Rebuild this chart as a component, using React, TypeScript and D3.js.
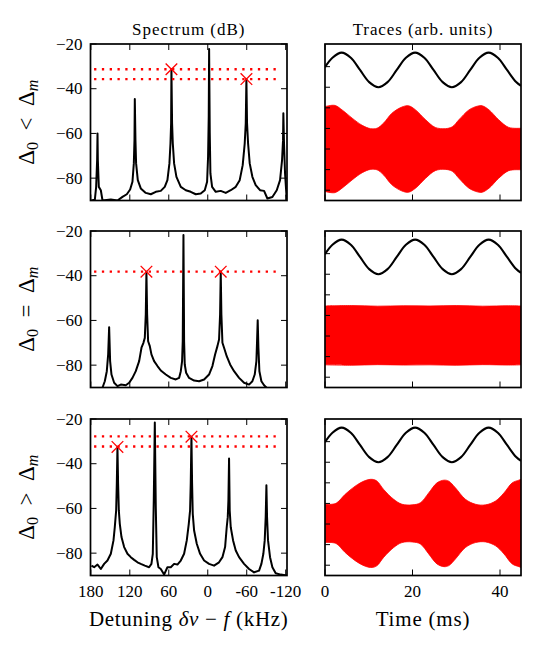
import React from "react";
import * as d3 from "d3";

const FONT = "'Liberation Serif', 'Times New Roman', serif";

// ---------- axis / tick data ----------
const freqTicks = [180, 120, 60, 0, -60, -120];
const freqTickLabels = ["180", "120", "60", "0", "-60", "-120"];
const dbTicks = [-20, -40, -60, -80];
const dbTickLabels = ["\u221220", "\u221240", "\u221260", "\u221280"];
const timeTicks = [0, 20, 40];
const timeTickLabels = ["0", "20", "40"];
const traceTicks = [0, 1, 2, 3, 4, 5, 6];
const freqDomain = [180.5, -122];
const dbDomain = [-90, -20];
const timeDomain = [0, 44.8];
const traceDomain = [-0.5, 7.1];

// ---------- spectra (detuning kHz, dB) ----------
const spectrumTop: [number, number][] = [
  [179, -90], [173.8, -89.6], [171.8, -83.9], [170.3, -71.9], [169.7, -60], [169.2, -71.9], [167.7, -83.9],
  [164.6, -85.4], [162, -90], [149.2, -89.6], [139, -90], [131.3, -88.4], [124.6, -87.2], [119.5, -85.1],
  [115.9, -81.6], [113.8, -73.4], [112.8, -63], [112.3, -44.6], [111.3, -63], [110.3, -73.4], [107.7, -80.9],
  [103.1, -84.6], [95.4, -86.6], [87.7, -87.2], [80, -86.1], [72.3, -85.7], [66.2, -83.9], [62.1, -80.9],
  [59, -73.4], [57.4, -64.5], [56.4, -55.5], [55.9, -31.3], [54.9, -55.5], [53.8, -64.5], [51.8, -73.4],
  [48.2, -79.4], [41.5, -83.9], [33.8, -85.4], [26.2, -86.1], [18.5, -87.2], [10.8, -86.9], [4.6, -85.4],
  [1, -81.6], [-0.5, -70.4], [-1.5, -52.5], [-2.1, -22.2], [-3.1, -60], [-4.1, -77.9], [-6.7, -83.9],
  [-12.3, -86.1], [-20, -85.7], [-27.7, -86.6], [-35.4, -85.4], [-43.1, -83.9], [-49.2, -80.9], [-53.8, -74.2],
  [-56.9, -64.5], [-58.5, -55.5], [-59.5, -35.7], [-60.5, -55.5], [-62.1, -64.5], [-64.6, -73.4], [-68.7, -79.4],
  [-73.8, -83.1], [-80.5, -85.4], [-86.7, -85.7], [-91.8, -89.1], [-99.5, -88.4], [-106.2, -85.4],
  [-111.3, -80.9], [-114.4, -71.9], [-115.9, -63], [-116.4, -51], [-117.4, -64.5], [-119, -77.9],
  [-121, -86.9], [-122.6, -90],
];

const spectrumMid: [number, number][] = [
  [162.1, -90.1], [158.5, -87.2], [155.4, -82.7], [153.3, -75.2], [151.8, -63], [150.3, -78.2], [148.2, -84.2],
  [144.1, -87.9], [139, -89.4], [133.8, -88.7], [126.2, -89], [121, -87.9], [115.9, -85.7], [110.8, -82.7],
  [105.6, -78.2], [102, -72.2], [99, -70], [96.9, -67.8], [95.4, -57.3], [94.4, -38.2], [93.3, -57.3],
  [91.8, -69.3], [89.2, -71.5], [86.7, -75.2], [82.6, -78.2], [77.4, -80.4], [72.3, -82.4], [64.6, -84.2],
  [56.9, -85.7], [49.2, -86.4], [44.1, -85.7], [41.5, -82.7], [39.5, -78.2], [38.5, -69.3], [37.4, -21.8],
  [36.4, -69.3], [35.4, -79.7], [33.3, -83.4], [28.7, -85.7], [21, -86.9], [13.3, -87.2], [5.6, -86.4],
  [-2, -84.2], [-7.2, -80.4], [-11.3, -75.2], [-14.9, -71.5], [-17.4, -68.5], [-19, -57.3], [-20, -38.2],
  [-21, -57.3], [-22.6, -70], [-25.1, -72.2], [-29.2, -76], [-34.4, -79.7], [-40.5, -82.7], [-48.2, -85.7],
  [-55.9, -87.9], [-63.6, -88.7], [-68.7, -87.2], [-72.3, -84.2], [-74.9, -78.2], [-75.9, -69.3],
  [-76.9, -59.9], [-78, -72.2], [-79.5, -82.7], [-82.6, -87.2], [-86.7, -89], [-91.8, -90.4], [-122.6, -91.6],
];

const spectrumBottom: [number, number][] = [
  [179, -85.6], [174.9, -86.3], [169.7, -85.1], [164.6, -87.1], [159.5, -84.8], [154.4, -83.3], [149.2, -80.3],
  [145.1, -74.3], [143.1, -68.4], [141, -60.9], [140, -48.9], [139, -32.5], [138, -48.9], [136.9, -60.9],
  [135.4, -66.9], [132.8, -72.8], [128.7, -77.3], [123.6, -80.3], [118.5, -81.8], [113.3, -83], [108.2, -84.1],
  [103.1, -84.8], [96.9, -85.6], [90.3, -86.3], [86.7, -84.8], [84.6, -80.3], [83.1, -56.4], [81.5, -21.6],
  [80, -59.4], [78.5, -81.8], [75.9, -86.3], [72.3, -87.1], [67.2, -89.6], [62.1, -86.3], [56.9, -86.3],
  [51.8, -84.8], [46.7, -85.1], [41.5, -83.3], [36.4, -80.3], [32.3, -74.3], [29.2, -66.9], [27.2, -60.9],
  [26.2, -48.9], [25.1, -27.9], [24.1, -48.9], [23.1, -62.4], [21, -69.9], [16.9, -75.8], [11.8, -80.3],
  [5.6, -83.3], [-2, -84.8], [-9.7, -85.6], [-17.4, -84.1], [-22.6, -81.8], [-26.7, -77.3], [-29.2, -68.4],
  [-30.8, -63.9], [-31.8, -56.4], [-32.8, -37.7], [-33.8, -60.9], [-35.4, -68.4], [-39, -74.3], [-43.1, -78.8],
  [-48.2, -81.8], [-55.9, -84.8], [-63.6, -87.1], [-71.3, -88.6], [-79, -87.8], [-82.6, -84.8], [-85.6, -80.3],
  [-87.7, -74.3], [-89.2, -63.9], [-90.3, -49.6], [-91.3, -63.9], [-92.8, -74.3], [-95.9, -81.8],
  [-99.5, -86.3], [-104.6, -89], [-112.3, -89.6], [-122.6, -90],
];

const markersTop: [number, number][] = [[55.9, -31.3], [-59.5, -35.7]];
const markersMid: [number, number][] = [[94.4, -38.2], [-20, -38.2]];
const markersBottom: [number, number][] = [[139, -32.5], [25.1, -27.9]];
const levelsTop = [-31.3, -35.7];
const levelsMid = [-38.2];
const levelsBottom = [-27.8, -32.3];
const levelSpan = [175, -112];

// ---------- traces (time ms, arb. units) ----------
const modulation: [number, number][] = [
  [0, 5.97], [1.7, 6.43], [3.8, 6.68], [5.9, 6.43], [8.0, 5.84], [10.1, 5.25], [12.2, 5.0], [14.3, 5.25],
  [16.4, 5.84], [18.5, 6.43], [20.6, 6.68], [22.7, 6.43], [24.8, 5.84], [26.9, 5.25], [29.0, 5.0], [31.1, 5.25],
  [33.2, 5.84], [35.3, 6.43], [37.4, 6.68], [39.5, 6.43], [41.6, 5.84], [43.7, 5.25], [44.8, 5.07],
];

const envelopeTop: [number, number][] = [
  [0, 2.06], [2.2, 2.12], [3.9, 1.9], [6.2, 1.5], [8.5, 1.15], [10.4, 0.99], [11.9, 1.01], [13.4, 1.26],
  [15.3, 1.74], [17.6, 2.04], [19.1, 2.1], [20.7, 1.9], [23, 1.42], [25.2, 1.05], [27.5, 0.99], [29.1, 1.08],
  [30.6, 1.42], [32.9, 1.9], [34.8, 2.08], [35.9, 2.1], [37.5, 1.9], [39.7, 1.42], [42, 1.05], [44.8, 1.01],
];
const envelopeMid: [number, number][] = [
  [0, 1.43], [6, 1.45], [12, 1.42], [18, 1.44], [24, 1.43], [30, 1.45], [36, 1.42], [42, 1.44], [44.8, 1.43],
];
const envelopeBottom: [number, number][] = [
  [0, 0.93], [1.6, 0.93], [2.7, 1.0], [4.6, 1.41], [6.9, 1.81], [9.2, 2.08], [10.8, 2.14], [11.9, 2.05],
  [13.4, 1.65], [15.7, 1.17], [17.6, 0.93], [19.9, 0.9], [21.8, 1.0], [23.7, 1.48], [25.6, 1.97], [27.2, 2.1],
  [28.3, 2.05], [29.8, 1.73], [32.1, 1.17], [34.4, 0.93], [36.7, 0.9], [39, 1.09], [40.9, 1.48], [42.8, 1.97],
  [44.3, 2.1], [44.8, 2.14],
];
const envelopeCenters = [2.0, 2.03, 2.03];

// ---------- layout ----------
const LX0 = 90.5, LX1 = 287;
const RX0 = 325, RX1 = 521;
const ROW_TOPS = [44, 231, 419];
const PH = 156.5;
const TICK = 6;

type Pt = [number, number];

function SpectrumPanel({ row, data, markers, levels }: { row: number; data: Pt[]; markers: Pt[]; levels: number[] }) {
  const top = ROW_TOPS[row];
  const x = d3.scaleLinear().domain(freqDomain).range([LX0, LX1]);
  const y = d3.scaleLinear().domain(dbDomain).range([top + PH, top]);
  const line = d3.line<Pt>().x((d) => x(d[0])).y((d) => y(d[1]));
  const clipId = `clipS${row}`;
  const showX = row === 2;
  return (
    <g>
      <defs>
        <clipPath id={clipId}>
          <rect x={LX0} y={top} width={LX1 - LX0} height={PH} />
        </clipPath>
      </defs>
      <g clipPath={`url(#${clipId})`}>
        <path d={line(data) || ""} fill="none" stroke="#000" strokeWidth={2} strokeLinejoin="round" />
        {levels.map((lv, i) => (
          <line key={i} x1={x(levelSpan[0])} x2={x(levelSpan[1])} y1={y(lv)} y2={y(lv)}
            stroke="#ff0000" strokeWidth={2.3} strokeDasharray="2.3,5.5" />
        ))}
        {markers.map((m, i) => {
          const cx = x(m[0]), cy = y(m[1]), s = 5.8;
          return (
            <g key={i} stroke="#ff0000" strokeWidth={1.3}>
              <line x1={cx - s} y1={cy - s} x2={cx + s} y2={cy + s} />
              <line x1={cx - s} y1={cy + s} x2={cx + s} y2={cy - s} />
            </g>
          );
        })}
      </g>
      <rect x={LX0} y={top} width={LX1 - LX0} height={PH} fill="none" stroke="#000" strokeWidth={1.7} />
      {freqTicks.map((t, i) => (
        <g key={i} stroke="#000" strokeWidth={1}>
          <line x1={x(t)} x2={x(t)} y1={top + PH} y2={top + PH - TICK} />
          <line x1={x(t)} x2={x(t)} y1={top} y2={top + TICK} />
        </g>
      ))}
      {dbTicks.map((t, i) => (
        <g key={i} stroke="#000" strokeWidth={1}>
          <line x1={LX0} x2={LX0 + TICK} y1={y(t)} y2={y(t)} />
          <line x1={LX1} x2={LX1 - TICK} y1={y(t)} y2={y(t)} />
        </g>
      ))}
      {dbTicks.map((t, i) => (
        <text key={i} x={LX0 - 8} y={y(t) + 5.6} textAnchor="end" fontFamily={FONT} fontSize={17} fill="#000">
          {dbTickLabels[i]}
        </text>
      ))}
      {showX &&
        freqTicks.map((t, i) => (
          <text key={i} x={x(t)} y={597} textAnchor="middle" fontFamily={FONT} fontSize={17} fill="#000">
            {freqTickLabels[i]}
          </text>
        ))}
    </g>
  );
}

function TracePanel({ row, envelope, center }: { row: number; envelope: Pt[]; center: number }) {
  const top = ROW_TOPS[row];
  const x = d3.scaleLinear().domain(timeDomain).range([RX0, RX1]);
  const y = d3.scaleLinear().domain(traceDomain).range([top + PH, top]);
  const area = d3
    .area<Pt>()
    .x((d) => x(d[0]))
    .y0((d) => y(center - d[1]))
    .y1((d) => y(center + d[1]))
    .curve(d3.curveCatmullRom);
  const line = d3.line<Pt>().x((d) => x(d[0])).y((d) => y(d[1])).curve(d3.curveCatmullRom);
  const clipId = `clipT${row}`;
  const showX = row === 2;
  return (
    <g>
      <defs>
        <clipPath id={clipId}>
          <rect x={RX0} y={top} width={RX1 - RX0} height={PH} />
        </clipPath>
      </defs>
      <g clipPath={`url(#${clipId})`}>
        <path d={area(envelope) || ""} fill="#ff0000" stroke="#ff0000" strokeWidth={0.8} />
        <path d={line(modulation) || ""} fill="none" stroke="#000" strokeWidth={2.1} />
      </g>
      <rect x={RX0} y={top} width={RX1 - RX0} height={PH} fill="none" stroke="#000" strokeWidth={1.7} />
      {timeTicks.map((t, i) => (
        <g key={i} stroke="#000" strokeWidth={1}>
          <line x1={x(t)} x2={x(t)} y1={top + PH} y2={top + PH - TICK} />
          <line x1={x(t)} x2={x(t)} y1={top} y2={top + TICK} />
        </g>
      ))}
      {traceTicks.map((t, i) => (
        <line key={i} x1={RX0} x2={RX0 + 5} y1={y(t)} y2={y(t)} stroke="#000" strokeWidth={1} />
      ))}
      {showX &&
        timeTicks.map((t, i) => (
          <text key={i} x={x(t)} y={597} textAnchor="middle" fontFamily={FONT} fontSize={17} fill="#000">
            {timeTickLabels[i]}
          </text>
        ))}
    </g>
  );
}

const rowRelations = ["<", "=", ">"];

export default function App() {
  const spectra = [spectrumTop, spectrumMid, spectrumBottom];
  const markers = [markersTop, markersMid, markersBottom];
  const levels = [levelsTop, levelsMid, levelsBottom];
  const envelopes = [envelopeTop, envelopeMid, envelopeBottom];
  return (
    <svg width={544} height={653} style={{ position: "absolute", left: 0, top: 0, background: "#fff" }}>
      <rect x={0} y={0} width={544} height={653} fill="#fff" />
      <text x={(LX0 + LX1) / 2} y={35} textAnchor="middle" fontFamily={FONT} fontSize={17} letterSpacing={1}>
        Spectrum (dB)
      </text>
      <text x={(RX0 + RX1) / 2} y={35} textAnchor="middle" fontFamily={FONT} fontSize={17} letterSpacing={0.9}>
        Traces (arb. units)
      </text>
      {[0, 1, 2].map((r) => (
        <g key={r}>
          <SpectrumPanel row={r} data={spectra[r]} markers={markers[r]} levels={levels[r]} />
          <TracePanel row={r} envelope={envelopes[r]} center={envelopeCenters[r]} />
          <text
            transform={`translate(34, ${ROW_TOPS[r] + PH / 2}) rotate(-90)`}
            textAnchor="middle"
            fontFamily={FONT}
            fontSize={23}
          >
            {"\u0394"}
            <tspan dy={4} fontSize={16}>0</tspan>
            <tspan dy={-4}>{"\u2002" + rowRelations[r] + "\u2002\u0394"}</tspan>
            <tspan dy={4} fontSize={16} fontStyle="italic">m</tspan>
          </text>
        </g>
      ))}
      <text x={(LX0 + LX1) / 2} y={626} textAnchor="middle" fontFamily={FONT} fontSize={21} letterSpacing={0.7}>
        {"Detuning "}
        <tspan fontStyle="italic">{"\u03B4\u03BD"}</tspan>
        {" \u2212 "}
        <tspan fontStyle="italic">f</tspan>
        {" (kHz)"}
      </text>
      <text x={(RX0 + RX1) / 2} y={626} textAnchor="middle" fontFamily={FONT} fontSize={21} letterSpacing={0.8}>
        Time (ms)
      </text>
    </svg>
  );
}
